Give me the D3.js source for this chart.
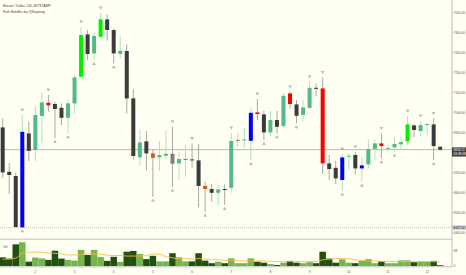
<!DOCTYPE html>
<html>
<head>
<meta charset="utf-8">
<script src="https://cdnjs.cloudflare.com/ajax/libs/d3/7.8.5/d3.min.js"></script>
<style>
    body { margin: 0; background: #fffff2; }
    svg { display: block; font-family: "Liberation Sans", Arial, sans-serif; }
    .wick { stroke-width: 1; }
    .axis-text { fill: #555; font-size: 3.1px; }
</style>
</head>
<body>
<svg id="chart" width="466" height="275"></svg>
<script>
// 4H candles, BTC/USD Bitstamp
var open  = [6928, 6706, 6685, 6428, 6898, 6815, 6985, 7051, 7045, 7026, 6976, 7048, 7181, 7393, 7298, 7381, 7468, 7415,
             7295, 7310, 7073, 6778, 6858, 6798, 6778, 6786, 6796, 6748, 6770, 6768, 6763, 6635, 6620, 6601, 6620, 6626,
             6863, 6863, 6861, 7003, 6993, 6903, 6965, 6935, 7098, 7043, 6990, 7026, 7126, 7123, 6748, 6726, 6665, 6783,
             6790, 6723, 6743, 6820, 6848, 6821, 6828, 6843, 6858, 6938, 6910, 6940, 6943, 6831];
var high  = [6973, 6750, 6701, 6990, 6956, 7031, 7103, 7090, 7056, 7048, 7065, 7190, 7431, 7415, 7406, 7501, 7493, 7423,
             7385, 7343, 7118, 6918, 6910, 6820, 6860, 6915, 6931, 6806, 6843, 6848, 6845, 6656, 6645, 6640, 6643, 6901,
             6901, 6923, 7028, 7070, 7011, 7010, 7010, 7098, 7106, 7065, 7065, 7156, 7148, 7178, 6790, 6760, 6795, 6795,
             6806, 6781, 6868, 6868, 6898, 6840, 6881, 6881, 6985, 6943, 6961, 6948, 6973, 6835];
var low   = [6675, 6595, 6427.16, 6428, 6760, 6760, 6850, 7006, 6875, 6940, 6898, 6998, 7178, 7265, 7265, 7375, 7361, 7248,
             7273, 6998, 6768, 6736, 6711, 6581, 6710, 6768, 6631, 6665, 6681, 6723, 6528, 6506, 6556, 6540, 6540, 6601,
             6831, 6823, 6765, 6965, 6865, 6885, 6898, 6926, 7020, 6948, 6960, 7018, 7085, 6695, 6665, 6643, 6611, 6718,
             6693, 6656, 6723, 6765, 6773, 6806, 6806, 6818, 6840, 6878, 6885, 6890, 6765, 6810];
var close = [6703, 6690, 6430, 6906, 6811, 6990, 7053, 7038, 7020, 6976, 7048, 7178, 7390, 7295, 7385, 7468, 7415, 7298,
             7311, 7073, 6785, 6853, 6798, 6776, 6790, 6796, 6746, 6770, 6770, 6766, 6635, 6620, 6601, 6618, 6615, 6860,
             6866, 6868, 7001, 6995, 6903, 6965, 6931, 7086, 7045, 6986, 7028, 7126, 7121, 6748, 6720, 6673, 6778, 6786,
             6723, 6738, 6820, 6848, 6835, 6826, 6845, 6855, 6943, 6915, 6940, 6945, 6835, 6816.72];

// bar state painted by the Fork Handles script
var barState = ['down', 'down', 'down', 'turnUp', 'down', 'up', 'up', 'turnDown', 'down', 'down', 'up', 'up', 'strongUp',
                'down', 'up', 'strongUp', 'down', 'down', 'up', 'down', 'down', 'up', 'down', 'weakDown', 'up', 'up', 'flat',
                'up', 'flat', 'down', 'down', 'weakDown', 'down', 'up', 'down', 'up', 'flat', 'up', 'turnUp', 'turnDown',
                'down', 'up', 'down', 'up', 'turnDown', 'down', 'up', 'up', 'down', 'turnDown', 'down', 'down', 'turnUp',
                'up', 'down', 'turnUp', 'up', 'up', 'turnDown', 'up', 'up', 'up', 'strongUp', 'down', 'up', 'up', 'down', 'down'];

// fractal markers (bar indices)
var upFractals   = [3, 7, 12, 15, 26, 29, 35, 39, 44, 47, 49, 52, 54, 58, 62, 64, 66];
var downFractals = [3, 8, 10, 14, 17, 23, 26, 31, 34, 38, 40, 42, 45, 52, 55, 58, 60, 66];

// volume in thousands, and its moving average
var volume = [3.4, 2.9, 8.5, 9.3, 1.7, 3.3, 3.0, 2.4, 6.0, 2.9, 2.4, 2.1, 6.3, 4.3, 6.3, 3.5, 2.0, 3.6, 1.6, 5.6, 5.9, 4.7,
              2.7, 4.0, 1.8, 1.8, 5.0, 3.4, 1.8, 1.8, 5.0, 2.1, 1.1, 1.7, 1.1, 3.0, 1.1, 1.1, 3.0, 1.7, 1.3, 0.8, 0.4, 1.3,
              2.0, 1.3, 1.1, 1.5, 1.1, 5.6, 2.9, 1.3, 2.6, 1.3, 1.1, 2.1, 2.7, 1.1, 1.8, 1.1, 1.1, 2.2, 2.2, 1.5, 1.8, 1.7,
              2.0, 0.3];
var volumeMA = [2.7, 2.7, 3.1, 5.0, 5.4, 5.4, 5.4, 5.1, 5.0, 4.7, 4.3, 4.3, 4.6, 4.7, 4.7, 4.6, 4.3, 4.1, 4.1, 3.9, 3.9, 3.9,
                4.1, 4.7, 4.6, 3.7, 3.2, 2.9, 2.9, 2.7, 2.9, 2.7, 2.6, 2.5, 2.3, 2.3, 2.2, 2.0, 2.0, 2.0, 2.0, 1.8, 1.8, 1.7,
                1.7, 1.7, 1.7, 1.7, 1.8, 2.4, 2.7, 2.9, 3.0, 2.9, 2.4, 2.1, 2.0, 2.0, 1.8, 1.8, 1.8, 1.7, 1.7, 1.7, 1.7, 1.7,
                1.7, 1.6];

var priceTicks = [7500, 7400, 7300, 7200, 7100, 7000, 6900, 6800, 6700, 6600, 6500, 6400];
var dayTicks = [5, 11, 17, 23, 29, 35, 41, 47, 53, 59, 65];
var dayLabels = ['2', '3', '4', '5', '6', '7', '8', '9', '10', '11', '12'];
var volTicks = [0, 6];

var lastPrice = 6816.72;
var countdown = '03:49:08';
var lowLine = 6427.16;

var svg = d3.select('#chart');
var axisX = 452;

var x = d3.scaleLinear().domain([0, 67]).range([2.7, 440.2]);
var y = d3.scaleLinear().domain([6400, 7500]).range([233, 13]);
var yVol = d3.scaleLinear().domain([0, 6]).range([266, 250.7]);

var colors = {
    up: '#53b987', down: '#3b3b3b', strongUp: '#00f000', turnUp: '#0000ff',
    turnDown: '#ff0000', weakDown: '#cd5f12', flat: '#7f7f7f'
};
var isUp = function(i) { return close[i] >= open[i]; };
var idx = d3.range(open.length);

svg.append('rect').attr('width', 466).attr('height', 275).attr('fill', '#fffff2');

// low line + last price line
svg.append('line')
    .attr('x1', 0).attr('x2', axisX)
    .attr('y1', y(lowLine)).attr('y2', y(lowLine))
    .attr('stroke', '#b8b8b8').attr('stroke-width', 0.8).attr('stroke-dasharray', '1,1');
svg.append('line')
    .attr('x1', 0).attr('x2', axisX)
    .attr('y1', y(lastPrice)).attr('y2', y(lastPrice))
    .attr('stroke', '#b8b8b0').attr('stroke-width', 1);

// candles
var candles = svg.append('g').attr('id', 'candles');
candles.selectAll('line.wick')
    .data(idx)
    .enter()
    .append('line')
    .classed('wick', true)
    .attr('x1', function(i) { return x(i); })
    .attr('x2', function(i) { return x(i); })
    .attr('y1', function(i) { return y(high[i]); })
    .attr('y2', function(i) { return y(low[i]); })
    .attr('stroke', function(i) { return isUp(i) ? '#b2e0c6' : '#a8a8a8'; });
candles.selectAll('rect.body')
    .data(idx)
    .enter()
    .append('rect')
    .classed('body', true)
    .attr('x', function(i) { return x(i) - 2; })
    .attr('width', 4)
    .attr('y', function(i) { return y(Math.max(open[i], close[i])); })
    .attr('height', function(i) { return Math.max(1, Math.abs(y(open[i]) - y(close[i]))); })
    .attr('fill', function(i) { return colors[barState[i]]; });

// fractal arrows
var marks = svg.append('g').attr('fill', 'none').attr('stroke', '#8a8a8a').attr('stroke-width', 0.6);
marks.selectAll('path.up')
    .data(upFractals)
    .enter()
    .append('path')
    .attr('d', function(i) {
        var cx = x(i), cy = y(high[i]) - 5;
        return 'M' + (cx - 1.2) + ',' + (cy - 1) + 'L' + (cx + 1.2) + ',' + (cy - 1) + 'L' + cx + ',' + (cy + 1) + 'Z';
    });
marks.selectAll('path.down')
    .data(downFractals)
    .enter()
    .append('path')
    .attr('d', function(i) {
        var cx = x(i), cy = y(low[i]) + 3.5;
        return 'M' + (cx - 1.2) + ',' + (cy + 1) + 'L' + (cx + 1.2) + ',' + (cy + 1) + 'L' + cx + ',' + (cy - 1) + 'Z';
    });

// title
svg.append('text').attr('x', 3).attr('y', 7).attr('font-size', '3.4px').attr('fill', '#444')
    .text('Bitcoin / Dollar, 240, BITSTAMP');
svg.append('text').attr('x', 3).attr('y', 13.3).attr('font-size', '3.4px').attr('fill', '#444')
    .text('Fork Handles by @Seyreng');

// pane separator + volume pane
svg.append('rect').attr('x', 0).attr('y', 238.5).attr('width', axisX).attr('height', 1.5).attr('fill', '#d6d6d0');
svg.append('text').attr('x', 3).attr('y', 247.5).attr('font-size', '3.3px').attr('fill', '#666').text('Vol');

svg.append('g').selectAll('rect')
    .data(idx)
    .enter()
    .append('rect')
    .attr('x', function(i) { return x(i) - 3.25; })
    .attr('width', 6.5)
    .attr('y', function(i) { return yVol(volume[i]); })
    .attr('height', function(i) { return yVol(0) - yVol(volume[i]); })
    .attr('fill', function(i) { return isUp(i) ? '#72b64c' : '#22500f'; });

var maLine = d3.line()
    .x(function(d, i) { return x(i); })
    .y(function(d) { return yVol(d); })
    .curve(d3.curveMonotoneX);
svg.append('path')
    .datum(volumeMA)
    .attr('d', maLine)
    .attr('fill', 'none')
    .attr('stroke', '#ffb74d')
    .attr('stroke-opacity', 0.85)
    .attr('stroke-width', 1);

// axes
svg.append('line').attr('x1', axisX).attr('x2', axisX).attr('y1', 0).attr('y2', 267)
    .attr('stroke', '#b0b0b0').attr('stroke-width', 0.8);
svg.append('line').attr('x1', 0).attr('x2', axisX).attr('y1', 266.8).attr('y2', 266.8)
    .attr('stroke', '#b0b0b0').attr('stroke-width', 0.8);

var pAxis = svg.append('g');
pAxis.selectAll('line')
    .data(priceTicks)
    .enter()
    .append('line')
    .attr('x1', axisX).attr('x2', axisX + 1.2)
    .attr('y1', function(d) { return y(d); }).attr('y2', function(d) { return y(d); })
    .attr('stroke', '#999').attr('stroke-width', 0.5);
pAxis.selectAll('text')
    .data(priceTicks)
    .enter()
    .append('text')
    .classed('axis-text', true)
    .attr('x', axisX + 1.8)
    .attr('y', function(d) { return y(d) + 1.1; })
    .text(function(d) { return d3.format('.2f')(d); });

svg.append('g').selectAll('text')
    .data(volTicks)
    .enter()
    .append('text')
    .classed('axis-text', true)
    .attr('x', axisX + 1.8)
    .attr('y', function(d) { return yVol(d) + 1.1; })
    .text(function(d) { return d === 0 ? '0' : d + 'K'; });

svg.append('g').selectAll('text')
    .data(dayTicks)
    .enter()
    .append('text')
    .classed('axis-text', true)
    .attr('text-anchor', 'middle')
    .attr('x', function(d) { return x(d); })
    .attr('y', 272.5)
    .text(function(d, k) { return dayLabels[k]; });

// price labels on the axis
var lp = y(lastPrice);
svg.append('rect').attr('x', axisX).attr('y', lp - 2.3).attr('width', 14).attr('height', 9.2).attr('fill', '#3f3f3f');
svg.append('text').attr('x', axisX + 1.6).attr('y', lp + 1.2).attr('font-size', '3.1px').attr('fill', '#fff')
    .text(d3.format('.2f')(lastPrice));
svg.append('text').attr('x', axisX + 1.6).attr('y', lp + 5.6).attr('font-size', '3.1px').attr('fill', '#fff')
    .text(countdown);

var ll = y(lowLine);
svg.append('rect').attr('x', axisX).attr('y', ll - 2.1).attr('width', 14).attr('height', 4.2).attr('fill', '#c4c4c4');
svg.append('text').attr('x', axisX + 1.6).attr('y', ll + 1.1).attr('font-size', '3.1px').attr('fill', '#333')
    .text(d3.format('.2f')(lowLine));
</script>
</body>
</html>
